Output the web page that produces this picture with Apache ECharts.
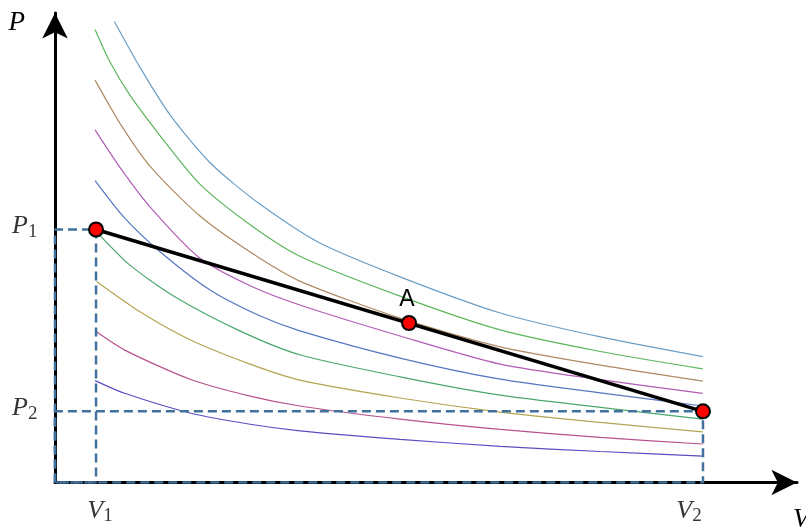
<!DOCTYPE html>
<html>
<head>
<meta charset="utf-8">
<script src="https://cdn.jsdelivr.net/npm/echarts@6/dist/echarts.min.js"></script>
<style>html,body{margin:0;padding:0;background:#fff}#c{width:806px;height:528px}</style>
</head>
<body>
<div id="c"></div>
<script>
// ---- Data (arbitrary units: V and P both on 0..10) ----
const V1 = 0.553, V2 = 8.733;
const P1 = 5.389, P2 = 1.515;
const pointA = [4.771, 3.397];
const pointNameA = 'A';
const pTickValues = [P1, P2];
const pTickLabels = [['P', '1'], ['P', '2']];
const vTickValues = [V1, V2];
const vTickLabels = [['V', '1'], ['V', '2']];
const axisNameV = 'V';
const axisNameP = 'P';

// isotherms, [V, P] pairs, top to bottom
const isotherm1 = [[0.80,9.82],[1.15,8.83],[1.55,7.83],[2.09,6.81],[2.76,5.93],[3.57,5.10],[4.65,4.38],[6.00,3.61],[7.35,3.10],[8.73,2.68]];
const isotherm2 = [[0.54,9.65],[0.74,8.96],[1.01,8.25],[1.42,7.38],[1.95,6.36],[2.63,5.49],[3.30,4.82],[4.65,3.97],[6.00,3.25],[7.35,2.79],[8.73,2.42]];
const isotherm3 = [[0.54,8.57],[0.88,7.64],[1.28,6.74],[1.95,5.68],[2.63,4.91],[3.30,4.29],[4.65,3.50],[6.00,2.89],[7.35,2.50],[8.73,2.16]];
const isotherm4 = [[0.54,7.51],[0.88,6.70],[1.28,5.87],[1.95,4.78],[2.63,4.19],[3.30,3.78],[4.65,3.12],[6.00,2.52],[7.35,2.19],[8.73,1.90]];
const isotherm5 = [[0.54,6.43],[0.94,5.63],[1.42,4.91],[2.09,4.10],[2.76,3.55],[3.30,3.23],[4.65,2.65],[6.00,2.20],[7.35,1.91],[8.73,1.63]];
const isotherm6 = [[0.56,5.34],[1.01,4.63],[1.62,3.95],[2.49,3.23],[3.30,2.72],[4.65,2.25],[6.00,1.86],[7.35,1.60],[8.73,1.35]];
const isotherm7 = [[0.56,4.28],[1.15,3.63],[1.82,3.04],[2.63,2.52],[3.30,2.18],[4.65,1.80],[6.00,1.50],[7.35,1.28],[8.73,1.08]];
const isotherm8 = [[0.54,3.23],[0.94,2.82],[1.82,2.20],[2.63,1.84],[3.30,1.63],[4.65,1.35],[6.00,1.13],[7.35,0.96],[8.73,0.82]];
const isotherm9 = [[0.54,2.17],[0.94,1.90],[1.82,1.48],[2.63,1.24],[3.30,1.10],[4.65,0.92],[6.00,0.77],[7.35,0.66],[8.73,0.56]];

const isotherms = [isotherm1, isotherm2, isotherm3, isotherm4, isotherm5, isotherm6, isotherm7, isotherm8, isotherm9];
const isoColors = ['#6a9ec6', '#5cb65c', '#b08a62', '#b25cb6', '#5676c2', '#4aa86c', '#b4a452', '#b8528c', '#5a4ec2'];

// ---- Build option ----
const serif = 'Liberation Serif';
const richStyle = {
  i: { fontFamily: serif, fontStyle: 'italic', fontSize: 26, lineHeight: 30, color: '#000', verticalAlign: 'middle' },
  s: { fontFamily: serif, fontSize: 19, lineHeight: 12, color: '#000', verticalAlign: 'bottom' }
};

const series = [];
isotherms.forEach((d, k) => {
  series.push({
    type: 'line', data: d, showSymbol: false, smooth: 0.25, silent: true,
    lineStyle: { color: isoColors[k], width: 1.2 }, z: 2
  });
});

// dashed guide rectangles
const dashStyle = { color: '#41719c', width: 2.5, type: [9, 5] };
[[V1, P1], [V2, P2]].forEach(([v, p]) => {
  series.push({
    type: 'line', showSymbol: false, silent: true, z: 3,
    data: [[0, 0], [0, p], [v, p], [v, 0], [0, 0]],
    lineStyle: dashStyle
  });
});

// process line 1 -> 2
series.push({
  type: 'line', showSymbol: false, silent: true, z: 4,
  data: [[V1, P1], [V2, P2]],
  lineStyle: { color: '#000', width: 3.5 }
});

// state points
series.push({
  type: 'scatter', z: 5, symbolSize: 14,
  itemStyle: { color: '#ff0000', borderColor: '#000', borderWidth: 2, opacity: 1 },
  data: [
    { value: [V1, P1] },
    { value: pointA, label: { show: true, formatter: pointNameA, position: 'top', distance: 4, offset: [-2, 0],
      fontFamily: 'Liberation Sans', fontSize: 23, color: '#000' } },
    { value: [V2, P2] }
  ]
});

// P tick labels
series.push({
  type: 'scatter', z: 6, symbolSize: 1, silent: true,
  itemStyle: { color: 'rgba(0,0,0,0)' },
  data: pTickValues.map((p, k) => ({
    value: [0, p],
    label: { show: true, position: 'left', distance: 17, offset: [0, -3],
      formatter: '{i|' + pTickLabels[k][0] + '}{s|' + pTickLabels[k][1] + '}', rich: richStyle }
  }))
});

// V tick labels
const vOffsets = [[4, 0], [-14, 0]];
series.push({
  type: 'scatter', z: 6, symbolSize: 1, silent: true,
  itemStyle: { color: 'rgba(0,0,0,0)' },
  data: vTickValues.map((v, k) => ({
    value: [v, 0],
    label: { show: true, position: 'bottom', distance: 13, offset: vOffsets[k],
      formatter: '{i|' + vTickLabels[k][0] + '}{s|' + vTickLabels[k][1] + '}', rich: richStyle }
  }))
});

const axisLine = { show: true, onZero: true, symbol: ['none', 'arrow'], symbolSize: [19.2, 25.6],
  lineStyle: { color: '#000', width: 3 } };

const option = {
  animation: false,
  backgroundColor: '#fff',
  grid: { left: 55, right: 9, top: 13, bottom: 45.5, containLabel: false, outerBoundsMode: 'none' },
  xAxis: {
    type: 'value', min: 0, max: 10,
    axisLine: axisLine, axisTick: { show: false }, axisLabel: { show: false }, splitLine: { show: false },
    name: axisNameV, nameLocation: 'end', nameGap: -4,
    nameTextStyle: { fontFamily: serif, fontStyle: 'italic', fontSize: 27, color: '#000',
      align: 'left', verticalAlign: 'top', padding: [24, 0, 0, 0] }
  },
  yAxis: {
    type: 'value', min: 0, max: 10,
    axisLine: axisLine, axisTick: { show: false }, axisLabel: { show: false }, splitLine: { show: false },
    name: axisNameP, nameLocation: 'end', nameGap: -9.5,
    nameTextStyle: { fontFamily: serif, fontStyle: 'italic', fontSize: 27, color: '#000',
      align: 'right', verticalAlign: 'middle', padding: [0, 30, 0, 0] }
  },
  series: series
};

const chart = echarts.init(document.getElementById('c'), null, { renderer: 'canvas' });
chart.setOption(option);
</script>
</body>
</html>
